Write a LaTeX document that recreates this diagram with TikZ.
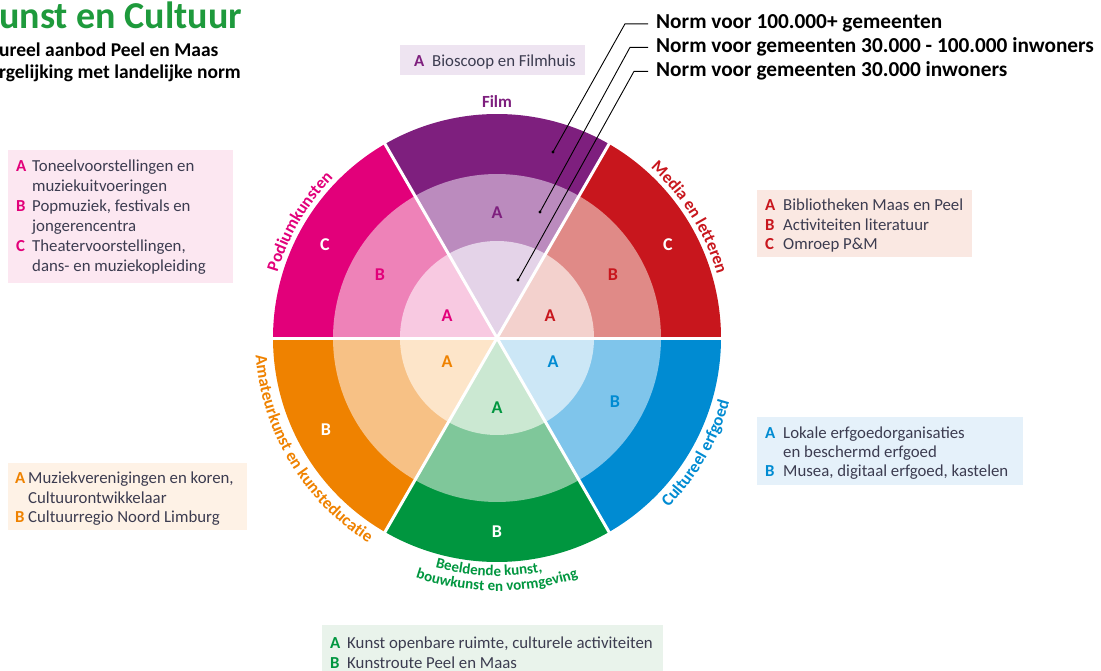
\documentclass[tikz,border=0pt]{standalone}
\usepackage{fontspec}
\setmainfont{Carlito}
\usetikzlibrary{decorations.text}
\definecolor{podD}{HTML}{E2007A}\definecolor{podM}{HTML}{EE82B8}\definecolor{podL}{HTML}{F8C9E1}\definecolor{podBg}{HTML}{FCE7F1}
\definecolor{filD}{HTML}{7E1F7E}\definecolor{filM}{HTML}{BB8BBE}\definecolor{filL}{HTML}{E4D3E8}\definecolor{filBg}{HTML}{EEE4F1}
\definecolor{medD}{HTML}{C8161D}\definecolor{medM}{HTML}{E08A87}\definecolor{medL}{HTML}{F3D1CD}\definecolor{medBg}{HTML}{FAE8E2}
\definecolor{amaD}{HTML}{EF8200}\definecolor{amaM}{HTML}{F7C185}\definecolor{amaL}{HTML}{FDE5C9}\definecolor{amaBg}{HTML}{FEF2E6}
\definecolor{beeD}{HTML}{00963F}\definecolor{beeM}{HTML}{7FC79A}\definecolor{beeL}{HTML}{CBE8D2}\definecolor{beeBg}{HTML}{E9F3EB}
\definecolor{erfD}{HTML}{008BD2}\definecolor{erfM}{HTML}{7FC5EB}\definecolor{erfL}{HTML}{CCE7F6}\definecolor{erfBg}{HTML}{E5F1FA}
\definecolor{titlegreen}{HTML}{1E9A3C}
\definecolor{legtxt}{HTML}{3C3C50}
\newcommand{\ringsector}[5]{%
  \fill[#3] (0,0) -- (#1:224) arc[start angle=#1, end angle=#2, radius=224] -- cycle;
  \fill[#4] (0,0) -- (#1:164) arc[start angle=#1, end angle=#2, radius=164] -- cycle;
  \fill[#5] (0,0) -- (#1:97) arc[start angle=#1, end angle=#2, radius=97] -- cycle;}
\newcommand{\arcfont}{\fontsize{17}{19}\selectfont\bfseries}
\begin{document}
\begin{tikzpicture}[x=1pt,y=1pt,
  legtext/.style={anchor=base west, inner sep=0pt, font=\fontsize{16.8}{20}\selectfont, text=legtxt},
  legkey/.style={anchor=base west, inner sep=0pt, font=\fontsize{16.8}{20}\selectfont\bfseries},
  ringlbl/.style={inner sep=0pt, font=\fontsize{18}{20}\selectfont\bfseries},
  normtxt/.style={anchor=base west, inner sep=0pt, font=\fontsize{21.3}{23}\selectfont\bfseries, text=black},
  leader/.style={line width=0.9pt, black},
  dotmark/.style={circle, fill=black, inner sep=0pt, minimum size=3.2pt}]
\useasboundingbox (0,0) rectangle (1101,-671);
\fill[white] (0,0) rectangle (1101,-671);

% title
\node[anchor=base west, inner sep=0pt, font=\fontsize{38}{42}\selectfont\bfseries, text=titlegreen] (title) at (-1,-29) {unst en Cultuur};
\node[anchor=base west, inner sep=0pt, font=\fontsize{19.5}{21}\selectfont\bfseries] (sub1) at (-1,-57) {ureel aanbod Peel en Maas};
\node[anchor=base west, inner sep=0pt, font=\fontsize{19.5}{21}\selectfont\bfseries] (sub2) at (-1,-79) {rgelijking met landelijke norm};

% wheel
\begin{scope}[shift={(497,-338)}]
  \ringsector{0}{60}{medD}{medM}{medL}
  \ringsector{60}{120}{filD}{filM}{filL}
  \ringsector{120}{180}{podD}{podM}{podL}
  \ringsector{180}{240}{amaD}{amaM}{amaL}
  \ringsector{240}{300}{beeD}{beeM}{beeL}
  \ringsector{300}{360}{erfD}{erfM}{erfL}
  \foreach \a in {0,60,120,180,240,300} \draw[white, line width=3pt] (0,0) -- (\a:226);
  % curved labels
  \path[decorate, decoration={text along path, text align=center, text={|\arcfont\color{podD}|Podiumkunsten}}]
    (175:229) arc[start angle=175, end angle=124, radius=229];
  \path[decorate, decoration={text along path, text align=center, text={|\arcfont\color{medD}|Media en letteren}}]
    (56:229) arc[start angle=56, end angle=8, radius=229];
  \path[decorate, decoration={text along path, text align=center, text={|\arcfont\color{amaD}|Amateurkunst en kunsteducatie}}]
    (176:242) arc[start angle=176, end angle=246, radius=242];
  \path[decorate, decoration={text along path, text align=center, text={|\arcfont\color{erfD}|Cultureel erfgoed}}]
    (-62:241) arc[start angle=-62, end angle=2, radius=241];
  \path[decorate, decoration={text along path, text align=center, text={|\fontsize{15}{17}\selectfont\bfseries\color{beeD}|Beeldende kunst,}}]
    (238:238) arc[start angle=238, end angle=298, radius=238];
  \path[decorate, decoration={text along path, text align=center, text={|\fontsize{15}{17}\selectfont\bfseries\color{beeD}|bouwkunst en vormgeving}}]
    (235:253) arc[start angle=235, end angle=305, radius=253];
\end{scope}
\node[inner sep=0pt, font=\fontsize{17}{19}\selectfont\bfseries, text=filD] (film) at (497,-102) {Film};

% ring letters
\node[ringlbl, text=white] (pC) at (325,-245) {C};
\node[ringlbl, text=podD] (pB) at (380,-275) {B};
\node[ringlbl, text=podD] (pA) at (447,-316) {A};
\node[ringlbl, text=filD] (fA) at (497,-213) {A};
\node[ringlbl, text=white] (mC) at (668,-245) {C};
\node[ringlbl, text=medD] (mB) at (613,-275) {B};
\node[ringlbl, text=medD] (mA) at (550,-316) {A};
\node[ringlbl, text=amaD] (aA) at (447,-362) {A};
\node[ringlbl, text=white] (aB) at (326,-430) {B};
\node[ringlbl, text=beeD] (bA) at (497,-408) {A};
\node[ringlbl, text=white] (bB) at (497,-532) {B};
\node[ringlbl, text=erfD] (eA) at (553,-362) {A};
\node[ringlbl, text=erfD] (eB) at (615,-402) {B};

% norms and leaders
\node[normtxt] (n1) at (656,-29) {Norm voor 100.000+ gemeenten};
\node[normtxt] (n2) at (656,-53) {Norm voor gemeenten 30.000 - 100.000 inwoners};
\node[normtxt] (n3) at (656,-77) {Norm voor gemeenten 30.000 inwoners};
\node[dotmark] (d1) at (553,-152) {};
\node[dotmark] (d2) at (540,-212) {};
\node[dotmark] (d3) at (518,-280) {};
\draw[leader] ([xshift=-8pt]n1.west) -- ++(-23,0) -- (d1.center);
\draw[leader] ([xshift=-8pt]n2.west) -- ++(-18,0) -- (d2.center);
\draw[leader] ([xshift=-8pt]n3.west) -- ++(-14,0) -- (d3.center);

% legend: Film
\fill[filBg] (400,-45) rectangle (585,-75);
\node[legkey, text=filD] (lfA) at (414,-67) {A};
\node[legtext] (lf1) at (432,-67) {Bioscoop en Filmhuis};

% legend: Podiumkunsten
\fill[podBg] (8,-150) rectangle (233,-283);
\node[legkey, text=podD] (lpA) at (16,-172) {A};
\node[legtext] (lp1) at (32,-172) {Toneelvoorstellingen en};
\node[legtext] (lp2) at (32,-192) {muziekuitvoeringen};
\node[legkey, text=podD] (lpB) at (16,-212) {B};
\node[legtext] (lp3) at (32,-212) {Popmuziek, festivals en};
\node[legtext] (lp4) at (32,-232) {jongerencentra};
\node[legkey, text=podD] (lpC) at (16,-252) {C};
\node[legtext] (lp5) at (32,-252) {Theatervoorstellingen,};
\node[legtext] (lp6) at (32,-272) {dans- en muziekopleiding};

% legend: Media
\fill[medBg] (757,-190) rectangle (972,-257);
\node[legkey, text=medD] (lmA) at (765,-211) {A};
\node[legtext] (lm1) at (783,-211) {Bibliotheken Maas en Peel};
\node[legkey, text=medD] (lmB) at (765,-231) {B};
\node[legtext] (lm2) at (783,-231) {Activiteiten literatuur};
\node[legkey, text=medD] (lmC) at (765,-250) {C};
\node[legtext] (lm3) at (783,-250) {Omroep P\&M};

% legend: Amateurkunst
\fill[amaBg] (8,-463) rectangle (247,-530);
\node[legkey, text=amaD] (laA) at (15,-483) {A};
\node[legtext] (la1) at (28,-483) {Muziekverenigingen en koren,};
\node[legtext] (la2) at (28,-503) {Cultuurontwikkelaar};
\node[legkey, text=amaD] (laB) at (15,-522) {B};
\node[legtext] (la3) at (28,-522) {Cultuurregio Noord Limburg};

% legend: Cultureel erfgoed
\fill[erfBg] (757,-417) rectangle (1023,-485);
\node[legkey, text=erfD] (leA) at (765,-438) {A};
\node[legtext] (le1) at (783,-438) {Lokale erfgoedorganisaties};
\node[legtext] (le2) at (783,-457) {en beschermd erfgoed};
\node[legkey, text=erfD] (leB) at (765,-476) {B};
\node[legtext] (le3) at (783,-476) {Musea, digitaal erfgoed, kastelen};

% legend: Beeldende kunst
\fill[beeBg] (322,-625) rectangle (663,-671);
\node[legkey, text=beeD] (lbA) at (330,-648) {A};
\node[legtext] (lb1) at (347,-648) {Kunst openbare ruimte, culturele activiteiten};
\node[legkey, text=beeD] (lbB) at (330,-668) {B};
\node[legtext] (lb2) at (347,-668) {Kunstroute Peel en Maas};
\end{tikzpicture}
\end{document}
